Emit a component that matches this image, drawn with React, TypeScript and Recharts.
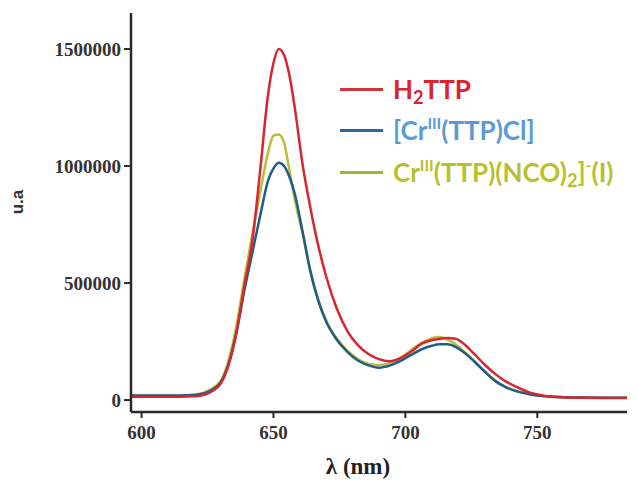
import React from 'react';
import { LineChart, Line, XAxis, YAxis } from 'recharts';

const wavelengths = [596, 605, 615, 620, 624, 627, 630, 633, 636, 639, 642, 645, 648, 650, 652, 654, 656, 658, 661, 664, 667, 670, 674, 678, 682, 686, 690, 694, 698, 702, 706, 710, 713, 716, 719, 722, 726, 730, 734, 738, 742, 747, 752, 758, 765, 775, 784];

const h2ttp = [14000, 14000, 14000, 16000, 24000, 40000, 70000, 150000, 290000, 490000, 680000, 985000, 1310000, 1440000, 1500000, 1475000, 1390000, 1255000, 1010000, 821000, 659000, 527000, 391000, 295000, 235000, 197000, 175000, 166000, 178000, 205000, 240000, 256000, 262000, 265000, 262000, 242000, 198000, 152000, 112000, 80000, 57000, 33000, 20000, 13000, 10000, 9000, 9000];

const crCl = [20000, 20000, 20000, 22000, 30000, 46000, 75000, 155000, 290000, 470000, 630000, 790000, 940000, 990000, 1014000, 1000000, 955000, 885000, 722000, 550000, 424000, 335000, 258000, 206000, 169000, 148000, 138000, 147000, 166000, 192000, 216000, 232000, 238000, 238000, 227000, 205000, 166000, 122000, 82000, 55000, 38000, 25000, 17000, 13000, 11000, 10000, 10000];

const crNco = [20000, 20000, 20000, 23000, 33000, 52000, 82000, 170000, 320000, 520000, 710000, 890000, 1060000, 1130000, 1135000, 1100000, 985000, 860000, 712000, 552000, 428000, 340000, 263000, 211000, 175000, 154000, 149000, 158000, 180000, 212000, 243000, 264000, 270000, 258000, 238000, 210000, 168000, 124000, 84000, 56000, 39000, 26000, 17000, 13000, 11000, 10000, 10000];

const xTicks = [600, 650, 700, 750];
const yTicks = [0, 500000, 1000000, 1500000];

const data = wavelengths.map((w, i) => ({ w, h2ttp: h2ttp[i], crCl: crCl[i], crNco: crNco[i] }));

const tickStyle = { fontFamily: '"Liberation Serif", serif', fontWeight: 700, fontSize: 19, fill: '#333' };
const axisColor = '#2a2a2a';

const legendRow = (top: number, lineColor: string, textColor: string, content: React.ReactNode) => (
  <div style={{ position: 'absolute', left: 340, top: top - 17, height: 34, display: 'flex', alignItems: 'center', whiteSpace: 'nowrap' }}>
    <span style={{ display: 'inline-block', width: 43, height: 3, background: lineColor, marginRight: 10 }} />
    <span style={{ fontFamily: 'Lato, "Open Sans", sans-serif', fontWeight: 700, fontSize: 26, color: textColor, lineHeight: 1 }}>{content}</span>
  </div>
);

const sup = (t: string) => <span style={{ fontSize: '0.6em', position: 'relative', top: '-0.7em' }}>{t}</span>;
const sub = (t: string) => <span style={{ fontSize: '0.7em', position: 'relative', top: '0.25em' }}>{t}</span>;

export default function App() {
  return (
    <div style={{ position: 'absolute', left: 0, top: 0, width: 638, height: 481, background: '#fff' }}>
      <LineChart width={638} height={481} data={data} margin={{ top: 13, right: 11, left: 0, bottom: 0 }}>
        <XAxis
          dataKey="w"
          type="number"
          domain={[596, 784]}
          allowDataOverflow
          ticks={xTicks}
          height={69}
          tickSize={6}
          tickMargin={8}
          tick={tickStyle}
          axisLine={{ stroke: axisColor, strokeWidth: 2.5 }}
          tickLine={{ stroke: axisColor, strokeWidth: 2 }}
        />
        <YAxis
          type="number"
          domain={[-51000, 1654000]}
          allowDataOverflow
          ticks={yTicks}
          width={131}
          tickSize={7}
          tickMargin={3}
          tick={tickStyle}
          axisLine={{ stroke: axisColor, strokeWidth: 2.5 }}
          tickLine={{ stroke: axisColor, strokeWidth: 2 }}
        />
        <Line type="monotone" dataKey="crNco" stroke="#b8bc38" strokeWidth={2.5} dot={false} isAnimationActive={false} />
        <Line type="monotone" dataKey="crCl" stroke="#1f5c86" strokeWidth={2.5} dot={false} isAnimationActive={false} />
        <Line type="monotone" dataKey="h2ttp" stroke="#d7262f" strokeWidth={2.5} dot={false} isAnimationActive={false} />
      </LineChart>
      <div style={{ position: 'absolute', left: 358, top: 467, transform: 'translate(-50%, -50%)', fontFamily: '"Liberation Serif", serif', fontWeight: 700, fontSize: 23, color: '#222', whiteSpace: 'nowrap' }}>λ (nm)</div>
      <div style={{ position: 'absolute', left: 18, top: 202, transform: 'translate(-50%, -50%) rotate(-90deg)', fontFamily: '"Liberation Sans", Arial, sans-serif', fontWeight: 700, fontSize: 17, color: '#333', whiteSpace: 'nowrap' }}>u.a</div>
      {legendRow(89, '#d0343a', '#d9232d', <>H{sub('2')}TTP</>)}
      {legendRow(130, '#2a6a9a', '#5b9bd5', <>[Cr{sup('III')}(TTP)Cl]</>)}
      {legendRow(172, '#a8b23a', '#b9c02e', <>Cr{sup('III')}(TTP)(NCO){sub('2')}]{sup('-')}(I)</>)}
    </div>
  );
}
